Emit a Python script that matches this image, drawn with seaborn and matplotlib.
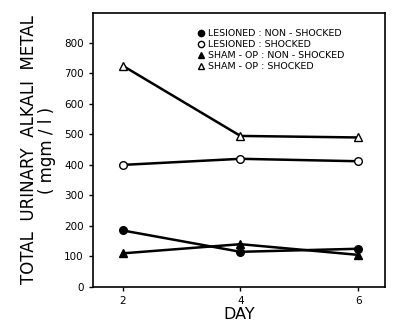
import matplotlib
matplotlib.use("Agg")
import matplotlib.pyplot as plt
import seaborn as sns
import pandas as pd

days = [2, 4, 6]
lesioned_non_shocked = [185, 115, 125]
lesioned_shocked = [400, 420, 412]
sham_non_shocked = [110, 140, 105]
sham_shocked = [725, 495, 490]
labels = ["LESIONED : NON - SHOCKED", "LESIONED : SHOCKED",
          "SHAM - OP : NON - SHOCKED", "SHAM - OP : SHOCKED"]

sns.set_style("ticks")
plt.rcParams['font.family'] = ['DejaVu Sans']
plt.rcParams['text.color'] = 'black'
plt.rcParams['axes.labelcolor'] = 'black'
plt.rcParams['xtick.color'] = 'black'
plt.rcParams['ytick.color'] = 'black'

rows = []
for lab, vals in zip(labels, [lesioned_non_shocked, lesioned_shocked,
                              sham_non_shocked, sham_shocked]):
    for d, v in zip(days, vals):
        rows.append({"day": d, "value": v, "group": lab})
df = pd.DataFrame(rows)

fig = plt.figure(figsize=(3.95, 3.26), dpi=100)
ax = fig.add_axes([0.235, 0.12, 0.74, 0.84])

styles = {
    labels[0]: dict(marker="o", mfc="black"),
    labels[1]: dict(marker="o", mfc="white"),
    labels[2]: dict(marker="^", mfc="black"),
    labels[3]: dict(marker="^", mfc="white"),
}
for lab in labels:
    sub = df[df.group == lab]
    sns.lineplot(data=sub, x="day", y="value", ax=ax, color="black",
                 linewidth=1.8, marker=styles[lab]["marker"],
                 markerfacecolor=styles[lab]["mfc"], markeredgecolor="black",
                 markeredgewidth=1.0, markersize=5.5, label=lab)

ax.set_xlim(1.49, 6.46)
ax.set_ylim(0, 898)
ax.set_xticks(days)
ax.set_yticks(range(0, 900, 100))
ax.tick_params(labelsize=7.5, length=3, width=1, direction="out")
for s in ax.spines.values():
    s.set_linewidth(1.2)
    s.set_color("black")
ax.set_xlabel("DAY", fontsize=11.5, labelpad=1)
ax.set_ylabel("TOTAL  URINARY  ALKALI  METAL\n( mgm / l )", fontsize=12,
              linespacing=1.0, labelpad=6)
leg = ax.legend(loc="upper left", bbox_to_anchor=(0.36, 0.94), frameon=False,
                fontsize=6.8, handlelength=0.6, handletextpad=0.5,
                labelspacing=0.2, borderaxespad=0, borderpad=0)
for h in leg.legend_handles:
    h.set_linestyle("")
    h.set_markersize(4.5)
plt.savefig("out.png", dpi=100)
